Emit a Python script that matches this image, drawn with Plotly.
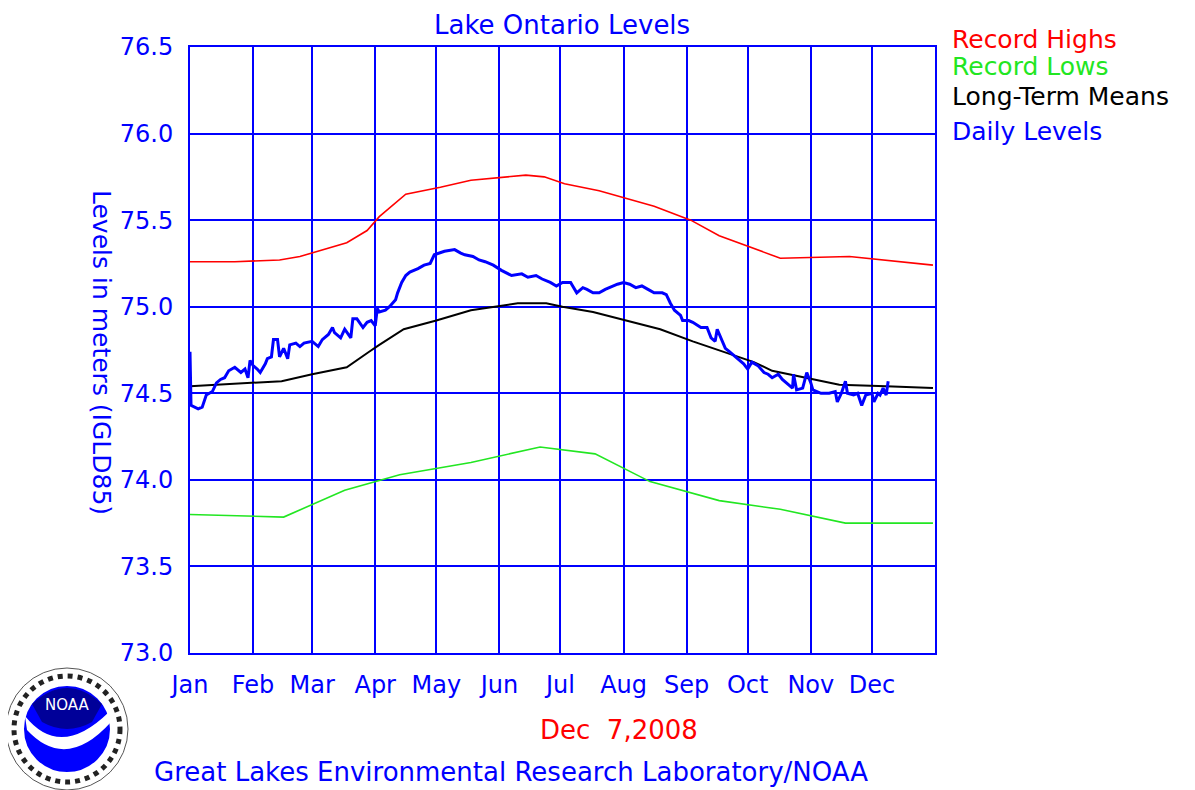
import plotly.graph_objects as go

# ---------------- data (day-of-year, level in metres) ----------------
month_labels = ["Jan", "Feb", "Mar", "Apr", "May", "Jun", "Jul", "Aug", "Sep", "Oct", "Nov", "Dec"]
month_start_days = [0, 31, 60, 91, 121, 152, 182, 213, 244, 274, 305, 335]

high_days = [0, 22, 44, 54, 77, 87, 93, 106, 123, 138, 165, 174, 184, 201, 228, 246, 260, 290, 324, 365]
high_levels = [75.26, 75.26, 75.27, 75.29, 75.37, 75.44, 75.52, 75.65, 75.69, 75.73, 75.76, 75.75,
               75.71, 75.67, 75.58, 75.50, 75.41, 75.28, 75.29, 75.24]

low_days = [0, 25, 46, 76, 103, 138, 172, 199, 226, 260, 290, 322, 365]
low_levels = [73.80, 73.79, 73.785, 73.94, 74.03, 74.10, 74.19, 74.15, 73.99, 73.88, 73.83, 73.75, 73.75]

mean_days = [0, 30, 45, 60, 77, 88, 93, 105, 121, 138, 161, 175, 183, 198, 215, 231, 247, 264, 277,
             286, 303, 319, 342, 365]
mean_levels = [74.54, 74.56, 74.57, 74.61, 74.65, 74.74, 74.78, 74.87, 74.92, 74.98, 75.02, 75.02, 75.00,
               74.97, 74.92, 74.87, 74.80, 74.73, 74.68, 74.63, 74.59, 74.55, 74.54, 74.53]

daily_days = [0, 0.5, 4, 6, 8, 11, 13, 15, 17, 19, 22, 25, 27, 28.5, 29.5, 31, 33, 34.5, 37, 38, 40, 41,
              43, 44, 46, 48, 49, 52, 54, 56, 60, 63, 65, 68, 70, 71, 74, 76, 79, 80, 82, 85, 87, 89,
              91, 92, 93, 96, 98, 101, 102, 104, 106, 108, 112, 115, 118, 120, 125, 130, 133, 135, 139,
              142, 145, 149, 153, 156, 158, 163, 166, 170, 173, 177, 180, 183, 187, 188, 190, 193, 195,
              198, 201, 204, 206, 210, 213, 216, 219, 222, 225, 228, 232, 234, 236, 238, 241, 242, 245,
              247, 251, 254, 256, 258, 259, 261, 263, 265, 269, 272, 274, 276, 279, 282, 284, 286, 289,
              291, 294, 296, 296.5, 298, 301, 303, 305, 306, 310, 314, 317, 318, 320, 322, 323, 326, 328,
              330, 332, 335, 336, 338, 339, 340.5, 342, 343]
daily_levels = [74.74, 74.43, 74.41, 74.42, 74.49, 74.51, 74.56, 74.58, 74.59, 74.63, 74.65, 74.62, 74.64,
                74.59, 74.69, 74.66, 74.64, 74.62, 74.67, 74.70, 74.71, 74.81, 74.81, 74.71, 74.76, 74.70,
                74.78, 74.79, 74.77, 74.79, 74.80, 74.77, 74.81, 74.84, 74.88, 74.85, 74.82, 74.87, 74.82,
                74.93, 74.93, 74.88, 74.91, 74.92, 74.89, 74.99, 74.97, 74.98, 75.00, 75.04, 75.08, 75.14,
                75.18, 75.20, 75.22, 75.24, 75.25, 75.30, 75.32, 75.33, 75.31, 75.30, 75.29, 75.27, 75.26,
                75.24, 75.21, 75.19, 75.18, 75.19, 75.17, 75.18, 75.16, 75.14, 75.12, 75.14, 75.14, 75.12,
                75.08, 75.11, 75.10, 75.08, 75.08, 75.10, 75.11, 75.13, 75.14, 75.13, 75.11, 75.12, 75.10,
                75.08, 75.08, 75.07, 75.02, 74.98, 74.95, 74.92, 74.92, 74.91, 74.88, 74.88, 74.82, 74.80,
                74.87, 74.82, 74.76, 74.74, 74.70, 74.67, 74.64, 74.68, 74.66, 74.62, 74.61, 74.59, 74.61,
                74.58, 74.55, 74.53, 74.61, 74.52, 74.53, 74.62, 74.56, 74.52, 74.50, 74.50, 74.51, 74.45,
                74.50, 74.57, 74.50, 74.49, 74.50, 74.43, 74.49, 74.50, 74.45, 74.50, 74.49, 74.53, 74.49,
                74.57]

title_text = "Lake Ontario Levels"
y_title = "Levels in meters (IGLD85)"
date_text = "Dec  7,2008"
credit_text = "Great Lakes Environmental Research Laboratory/NOAA"
legend_items = [("Record Highs", "#ff0000"), ("Record Lows", "#22e622"),
                ("Long-Term Means", "#000000"), ("Daily Levels", "#0000ff")]

# ---------------- figure ----------------
W, H = 1195, 790           # target window
OFF = 8                    # page body margin
L, R, T, B = 190, 935, 47, 653   # plot area in window pixels
FONT = "DejaVu Sans"
BLUE = "#0000ff"


def px(x):
    return (x - L) / (R - L)


def py(y):
    return (B - y) / (B - T)


fig = go.Figure()
fig.add_trace(go.Scatter(x=high_days, y=high_levels, mode="lines",
                         line=dict(color="#ff0000", width=1.6), name="Record Highs"))
fig.add_trace(go.Scatter(x=low_days, y=low_levels, mode="lines",
                         line=dict(color="#22e622", width=1.6), name="Record Lows"))
fig.add_trace(go.Scatter(x=mean_days, y=mean_levels, mode="lines",
                         line=dict(color="#000000", width=2), name="Long-Term Means"))
fig.add_trace(go.Scatter(x=daily_days, y=daily_levels, mode="lines",
                         line=dict(color=BLUE, width=3), name="Daily Levels"))

annotations = [
    dict(text=title_text, x=px(562), y=py(25), xref="paper", yref="paper", showarrow=False,
         font=dict(family=FONT, size=26, color=BLUE), xanchor="center", yanchor="middle"),
    dict(text=y_title, x=px(101), y=py(352), xref="paper", yref="paper", showarrow=False,
         textangle=90, font=dict(family=FONT, size=25, color=BLUE), xanchor="center", yanchor="middle"),
    dict(text=date_text, x=px(619), y=py(730), xref="paper", yref="paper", showarrow=False,
         font=dict(family=FONT, size=26, color="#ff0000"), xanchor="center", yanchor="middle"),
    dict(text=credit_text, x=px(152), y=py(772), xref="paper", yref="paper", showarrow=False,
         font=dict(family=FONT, size=26, color=BLUE), xanchor="left", yanchor="middle"),
]
legend_y = [39, 67, 96, 132]
for (label, col), yy in zip(legend_items, legend_y):
    annotations.append(dict(text=label, x=px(950), y=py(yy), xref="paper", yref="paper",
                            showarrow=False, font=dict(family=FONT, size=25, color=col),
                            xanchor="left", yanchor="middle"))

# NOAA-style logo built from shapes
cx, cy = 67, 729
shapes = []


def circ(r, fill, line_col, lw, dash="solid"):
    return dict(type="circle", xref="paper", yref="paper",
                x0=px(cx - r), x1=px(cx + r), y0=py(cy + r), y1=py(cy - r),
                fillcolor=fill, line=dict(color=line_col, width=lw, dash=dash))


shapes.append(circ(61, "white", "#555555", 1))
shapes.append(circ(53, "white", "#222222", 5, "dot"))
shapes.append(circ(44, BLUE, "white", 2))
# navy top
shapes.append(dict(type="path", xref="paper", yref="paper",
                   path="M {} {} Q {} {} {} {} L {} {} Q {} {} {} {} Z".format(
                       px(32), py(704), px(67), py(672), px(102), py(704),
                       px(92), py(722), px(67), py(736), px(42), py(722)),
                   fillcolor="#000099", line=dict(width=0)))
# gull
shapes.append(dict(type="path", xref="paper", yref="paper",
                   path="M {} {} Q {} {} {} {} L {} {} Q {} {} {} {} Z".format(
                       px(25), py(716), px(60), py(760), px(109), py(712),
                       px(111), py(722), px(66), py(772), px(27), py(730)),
                   fillcolor="white", line=dict(width=0)))
annotations.append(dict(text="NOAA", x=px(67), y=py(705), xref="paper", yref="paper",
                        showarrow=False, font=dict(family=FONT, size=15, color="white"),
                        xanchor="center", yanchor="middle"))

fig.update_layout(
    width=W - OFF, height=H - OFF,
    margin=dict(l=L - OFF, r=W - R, t=T - OFF, b=H - B, pad=0),
    paper_bgcolor="white", plot_bgcolor="white",
    showlegend=False,
    annotations=annotations,
    shapes=shapes,
    xaxis=dict(range=[0, 366], tickmode="array", tickvals=month_start_days, ticktext=month_labels,
               showgrid=True, gridcolor=BLUE, gridwidth=2, zeroline=False,
               showline=True, linecolor=BLUE, linewidth=2, mirror=True,
               ticks="", ticklabelstandoff=9,
               tickfont=dict(family=FONT, size=24, color=BLUE)),
    yaxis=dict(range=[73.0, 76.5], tickmode="array", tickvals=[73.0, 73.5, 74.0, 74.5, 75.0, 75.5, 76.0, 76.5],
               ticktext=["73.0", "73.5", "74.0", "74.5", "75.0", "75.5", "76.0", "76.5"],
               showgrid=True, gridcolor=BLUE, gridwidth=2, zeroline=False,
               showline=True, linecolor=BLUE, linewidth=2, mirror=True,
               ticks="", ticklabelstandoff=10,
               tickfont=dict(family=FONT, size=24, color=BLUE)),
)

fig.write_html("out.html")
